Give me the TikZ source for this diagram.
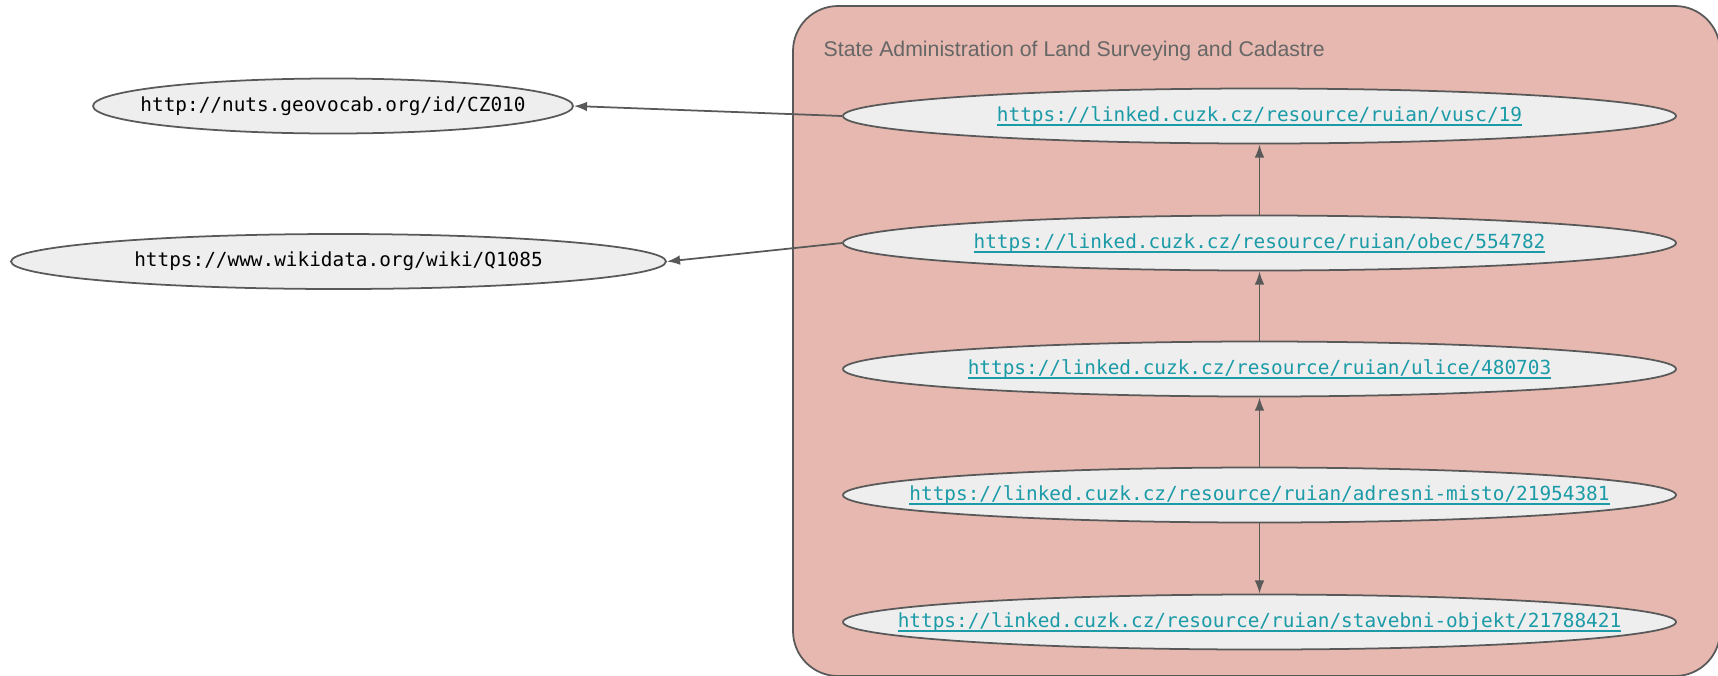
\documentclass[tikz,border=0pt]{standalone}
\usepackage{fontspec}
\setmainfont{Liberation Sans}
\setmonofont{DejaVu Sans Mono}
\usetikzlibrary{shapes.geometric,arrows.meta}
\definecolor{cadastre}{HTML}{E6B8AF}
\definecolor{edgegray}{HTML}{595959}
\definecolor{bubble}{HTML}{EEEEEE}
\definecolor{linkcyan}{HTML}{1A9BA7}
\definecolor{titlegray}{HTML}{666666}
% text that does not widen the ellipse
\newcommand{\plainuri}[1]{\makebox[0pt]{\raisebox{-1.5pt}{#1}}}
\newcommand{\linkuri}[1]{\makebox[0pt]{\raisebox{-1.5pt}{\setbox0\hbox{#1}\rlap{\rule[-2.6pt]{\wd0}{0.9pt}}\box0}}}
\begin{document}
\begin{tikzpicture}[
   uri/.style={ellipse, draw=edgegray, fill=bubble, line width=1pt, inner sep=0pt,
      minimum height=1.1cm, font=\ttfamily\fontsize{11.03}{13}\selectfont},
   res/.style={uri, minimum width=16.66cm, text=linkcyan},
   arr/.style={draw=edgegray, line width=1pt, -{Latex[length=7.5pt,width=5.5pt]}}]
    \clip (0,0) rectangle (34.36,-13.5);
    \path[draw=edgegray, fill=cadastre, line width=1pt, rounded corners=0.9cm]
       (15.86,-0.12) rectangle (34.40,-13.52);
    \path (16.35,-1.02) node[anchor=west, text=titlegray,
       font=\fontsize{12.1}{14}\selectfont] {State Administration of Land Surveying and Cadastre};
    \path (25.19,-2.32) node[res] (vusc) {\linkuri{https://linked.cuzk.cz/resource/ruian/vusc/19}};
    \path (25.19,-4.86) node[res] (obec) {\linkuri{https://linked.cuzk.cz/resource/ruian/obec/554782}};
    \path (25.19,-7.38) node[res] (ulice) {\linkuri{https://linked.cuzk.cz/resource/ruian/ulice/480703}};
    \path (25.19,-9.90) node[res] (adresa) {\linkuri{https://linked.cuzk.cz/resource/ruian/adresni-misto/21954381}};
    \path (25.19,-12.44) node[res] (objekt) {\linkuri{https://linked.cuzk.cz/resource/ruian/stavebni-objekt/21788421}};
    \path (6.66,-2.12) node[uri, minimum width=9.6cm] (nuts) {\plainuri{http://nuts.geovocab.org/id/CZ010}};
    \path (6.77,-5.23) node[uri, minimum width=13.1cm] (wiki) {\plainuri{https://www.wikidata.org/wiki/Q1085}};
    \draw[arr] (vusc.west) -- (nuts.east);
    \draw[arr] (obec.west) -- (wiki.east);
    \draw[arr] (obec.north) -- (vusc.south);
    \draw[arr] (ulice.north) -- (obec.south);
    \draw[arr] (adresa.north) -- (ulice.south);
    \draw[arr] (adresa.south) -- (objekt.north);
   \end{tikzpicture}
\end{document}
